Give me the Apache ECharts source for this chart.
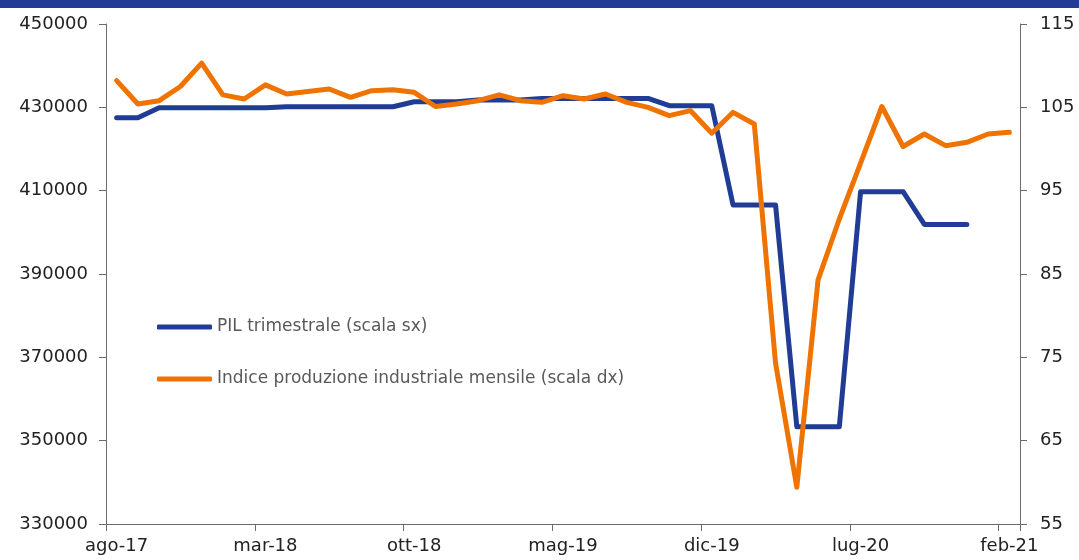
<!DOCTYPE html>
<html>
<head>
<meta charset="utf-8">
<script src="https://cdn.jsdelivr.net/npm/echarts@6/dist/echarts.min.js"></script>
<style>
  html, body { margin: 0; padding: 0; background: #fff; }
  #chart { width: 1079px; height: 560px; }
</style>
</head>
<body>
<div id="chart"></div>
<script>
// mesi da ago-17 a feb-21
var mesi = [
  'ago-17','set-17','ott-17','nov-17','dic-17',
  'gen-18','feb-18','mar-18','apr-18','mag-18','giu-18','lug-18','ago-18','set-18','ott-18','nov-18','dic-18',
  'gen-19','feb-19','mar-19','apr-19','mag-19','giu-19','lug-19','ago-19','set-19','ott-19','nov-19','dic-19',
  'gen-20','feb-20','mar-20','apr-20','mag-20','giu-20','lug-20','ago-20','set-20','ott-20','nov-20','dic-20',
  'gen-21','feb-21'
];

// PIL trimestrale (scala sx), ripetuto sui tre mesi del trimestre
var pil = [
  427500, 427500,
  429900, 429900, 429900,
  429900, 429900, 429900,
  430150, 430150, 430150,
  430150, 430150, 430150,
  431350, 431350, 431350,
  431750, 431750, 431750,
  432150, 432150, 432150,
  432150, 432150, 432150,
  430400, 430400, 430400,
  406550, 406550, 406550,
  353350, 353350, 353350,
  409750, 409750, 409750,
  401900, 401900, 401900,
  null, null
];

// Indice produzione industriale mensile (scala dx)
var produzione = [
  108.2, 105.4, 105.8, 107.5, 110.3,
  106.5, 106.0, 107.7, 106.6, 106.9, 107.2, 106.2, 107.0, 107.1, 106.8, 105.1, 105.4,
  105.8, 106.5, 105.8, 105.6, 106.4, 106.0, 106.6, 105.6, 105.0, 104.0, 104.6, 101.9,
  104.4, 103.0, 74.3, 59.4, 84.3, 91.6, 98.3, 105.1, 100.3, 101.8, 100.4, 100.8,
  101.8, 102.0
];

var nomiSerie = ['PIL trimestrale (scala sx)', 'Indice produzione industriale mensile (scala dx)'];
var blu = '#213c94';
var arancio = '#ef7300';

var myChart = echarts.init(document.getElementById('chart'));

var assi = {
  axisLine: { show: true, lineStyle: { color: '#6b6b6b', width: 1 } },
  axisTick: { show: true, length: 7, lineStyle: { color: '#6b6b6b' } },
  splitLine: { show: false }
};

var option = {
  animation: false,
  graphic: [
    { type: 'rect', left: 0, top: 0, shape: { width: 1079, height: 8 }, style: { fill: blu } }
  ],
  grid: { left: 106, right: 59, top: 24, bottom: 36 },
  legend: {
    orient: 'vertical',
    left: 157,
    top: 317,
    padding: 0,
    itemWidth: 55,
    itemHeight: 5,
    itemGap: 32,
    icon: 'roundRect',
    textStyle: { color: '#595959', fontFamily: 'DejaVu Sans', fontSize: 17, lineHeight: 20 },
    data: nomiSerie
  },
  xAxis: {
    type: 'category',
    data: mesi,
    boundaryGap: true,
    axisLine: assi.axisLine,
    axisTick: { show: true, length: 7, interval: 6, lineStyle: { color: '#6b6b6b' } },
    axisLabel: { interval: 6, margin: 13, color: '#222', fontFamily: 'DejaVu Sans', fontSize: 18 }
  },
  yAxis: [
    {
      type: 'value', position: 'left',
      min: 330000, max: 450000, interval: 20000,
      axisLine: assi.axisLine, axisTick: assi.axisTick, splitLine: assi.splitLine,
      axisLabel: {
        margin: 18, color: '#222', fontFamily: 'DejaVu Sans', fontSize: 18,
        formatter: function (v) { return String(v); }
      }
    },
    {
      type: 'value', position: 'right',
      min: 55, max: 115, interval: 10,
      axisLine: assi.axisLine, axisTick: assi.axisTick, splitLine: assi.splitLine,
      axisLabel: { margin: 20, color: '#222', fontFamily: 'DejaVu Sans', fontSize: 18 }
    }
  ],
  series: [
    {
      name: nomiSerie[0],
      type: 'line',
      yAxisIndex: 0,
      data: pil,
      symbol: 'none',
      color: blu,
      lineStyle: { color: blu, width: 5, cap: 'round', join: 'round' }
    },
    {
      name: nomiSerie[1],
      type: 'line',
      yAxisIndex: 1,
      data: produzione,
      symbol: 'none',
      color: arancio,
      lineStyle: { color: arancio, width: 5, cap: 'round', join: 'round' }
    }
  ]
};

myChart.setOption(option);
</script>
</body>
</html>
